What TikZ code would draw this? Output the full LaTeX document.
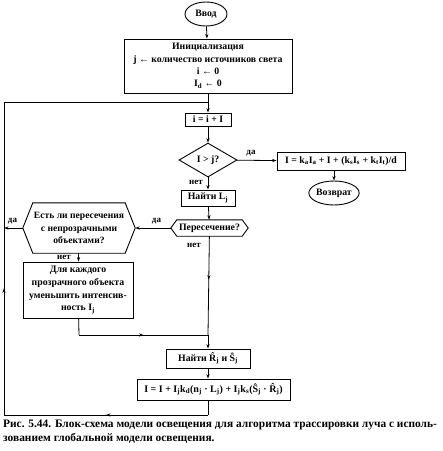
\documentclass[tikz,border=0pt]{standalone}
\usepackage{fontspec}
\setmainfont{Liberation Serif}
\usetikzlibrary{arrows.meta,shapes.geometric,decorations.markings}
\newcommand\hexdraw[2]{\draw[line width=0.9pt] (#1.west) -- ([xshift=#2]#1.north west) -- ([xshift=-#2]#1.north east) -- (#1.east) -- ([xshift=-#2]#1.south east) -- ([xshift=#2]#1.south west) -- cycle;}
\begin{document}
\begin{tikzpicture}[x=1pt,y=-1pt,
  every node/.style={font=\fontsize{9.8}{11}\selectfont\bfseries, inner sep=0pt},
  box/.style={draw, line width=0.9pt, rectangle, align=center},
  term/.style={draw, line width=0.9pt, ellipse},
  dia/.style={draw, line width=0.9pt, diamond, minimum width=58pt, minimum height=34pt},
  hexnode/.style={rectangle, align=center},
  lab/.style={font=\fontsize{9}{10}\selectfont\bfseries},
  captext/.style={font=\fontsize{11.4}{13}\selectfont\bfseries, anchor=base west},
  conn/.style={line width=0.8pt},
  arr/.style={conn, -{Stealth[length=4.5pt,width=3.2pt]}},
  midarr/.style={conn, postaction={decorate}, decoration={markings, mark=at position #1 with {\arrow{Stealth[length=4.5pt,width=3.2pt]}}}},
  midarr/.default=0.5]
\useasboundingbox (0,0) rectangle (443,451);
\fill[white] (0,0) rectangle (443,451);

\node[term, minimum width=42pt, minimum height=24pt] (start) at (206,14) {Ввод};
\node[box, minimum width=168pt, minimum height=54pt, font=\fontsize{9.8}{12.3}\selectfont\bfseries] (init) at (208,66) {Инициализация\\ j ← количество источников света\\ i ← 0\\ I\textsubscript{d} ← 0};
\node[box, minimum width=46pt, minimum height=13pt] (inc) at (208,119.5) {i = i + I};
\node[dia] (cmp) at (208,160) {I > j?};
\node[box, minimum width=128pt, minimum height=18pt] (fin) at (341,161) {I = k\textsubscript{a}I\textsubscript{a} + I + (k\textsubscript{s}I\textsubscript{s} + k\textsubscript{t}I\textsubscript{t})/d};
\node[term, minimum width=46pt, minimum height=24pt] (ret) at (334,193) {Возврат};
\node[box, minimum width=54pt, minimum height=16pt] (findL) at (208,198) {Найти L\textsubscript{j}};
\node[hexnode, minimum width=77pt, minimum height=16pt] (isect) at (209.5,228) {Пересечение?};
\node[hexnode, minimum width=112pt, minimum height=50pt, font=\fontsize{9.6}{12.3}\selectfont\bfseries] (opaque) at (79,228) {Есть ли пересечения\\ с непрозрачными\\ объектами?};
\node[box, minimum width=110pt, minimum height=56pt, font=\fontsize{9.8}{12.8}\selectfont\bfseries] (transp) at (78,290) {Для каждого\\ прозрачного объекта\\ уменьшить интенсив-\\ ность I\textsubscript{j}};
\node[box, minimum width=84pt, minimum height=19pt] (findRS) at (208,358.5) {Найти \^{R}\textsubscript{j} и \^{S}\textsubscript{j}};
\node[box, minimum width=153pt, minimum height=21pt, font=\fontsize{10}{11}\selectfont\bfseries] (shade) at (213.5,389.5) {I = I + I\textsubscript{j}k\textsubscript{d}(n\textsubscript{j} · L\textsubscript{j}) + I\textsubscript{j}k\textsubscript{s}(\^{S}\textsubscript{j} · \^{R}\textsubscript{j})};

\hexdraw{isect}{6pt}
\hexdraw{opaque}{10pt}

\coordinate (top) at (208,102);
\coordinate (jl) at (79,335);
\coordinate (jr) at (208,335);
\coordinate (b1) at (208,415);
\coordinate (b2) at (4,415);
\coordinate (b3) at (4,102);
\coordinate (lx) at (4,228);

\draw[arr] (start) -- (init);
\draw[conn] (init) -- (top);
\draw[arr] (top) -- (inc);
\draw[arr] (inc) -- (cmp);
\draw[arr] (cmp) -- (fin);
\node[lab] (yes1) at (251,153) {да};
\draw[arr] (fin.south -| ret) -- (ret);
\draw[arr] (cmp) -- (findL);
\node[lab] (no1) at (196,182.5) {нет};
\draw[arr] (findL) -- (isect);
\draw[arr] (isect) -- (opaque);
\node[lab] (yes2) at (156.5,221) {да};
\draw[arr] (opaque) -- (lx);
\node[lab] (yes3) at (12.5,221) {да};
\draw[arr] (opaque) -- (transp);
\node[lab] (no2) at (64,257) {нет};
\draw[midarr=0.44] (isect) -- (jr);
\node[lab] (no3) at (194,245.5) {нет};
\draw[conn] (transp) -- (jl);
\draw[midarr=0.5] (jl) -- (jr);
\draw[arr] (jr) -- (findRS);
\draw[arr] (findRS.south) -- (findRS.south |- shade.north);
\draw[conn] (shade.south -| b1) -- (b1);
\draw[midarr=0.5] (b1) -- (b2);
\draw[midarr=0.405] (b2) -- (b3);
\draw[conn] (b3) -- (top);

\node[captext] (cap1) at (3,427) {Рис. 5.44. Блок-схема модели освещения для алгоритма трассировки луча с исполь-};
\node[captext] (cap2) at (3,441) {зованием глобальной модели освещения.};
\end{tikzpicture}
\end{document}
